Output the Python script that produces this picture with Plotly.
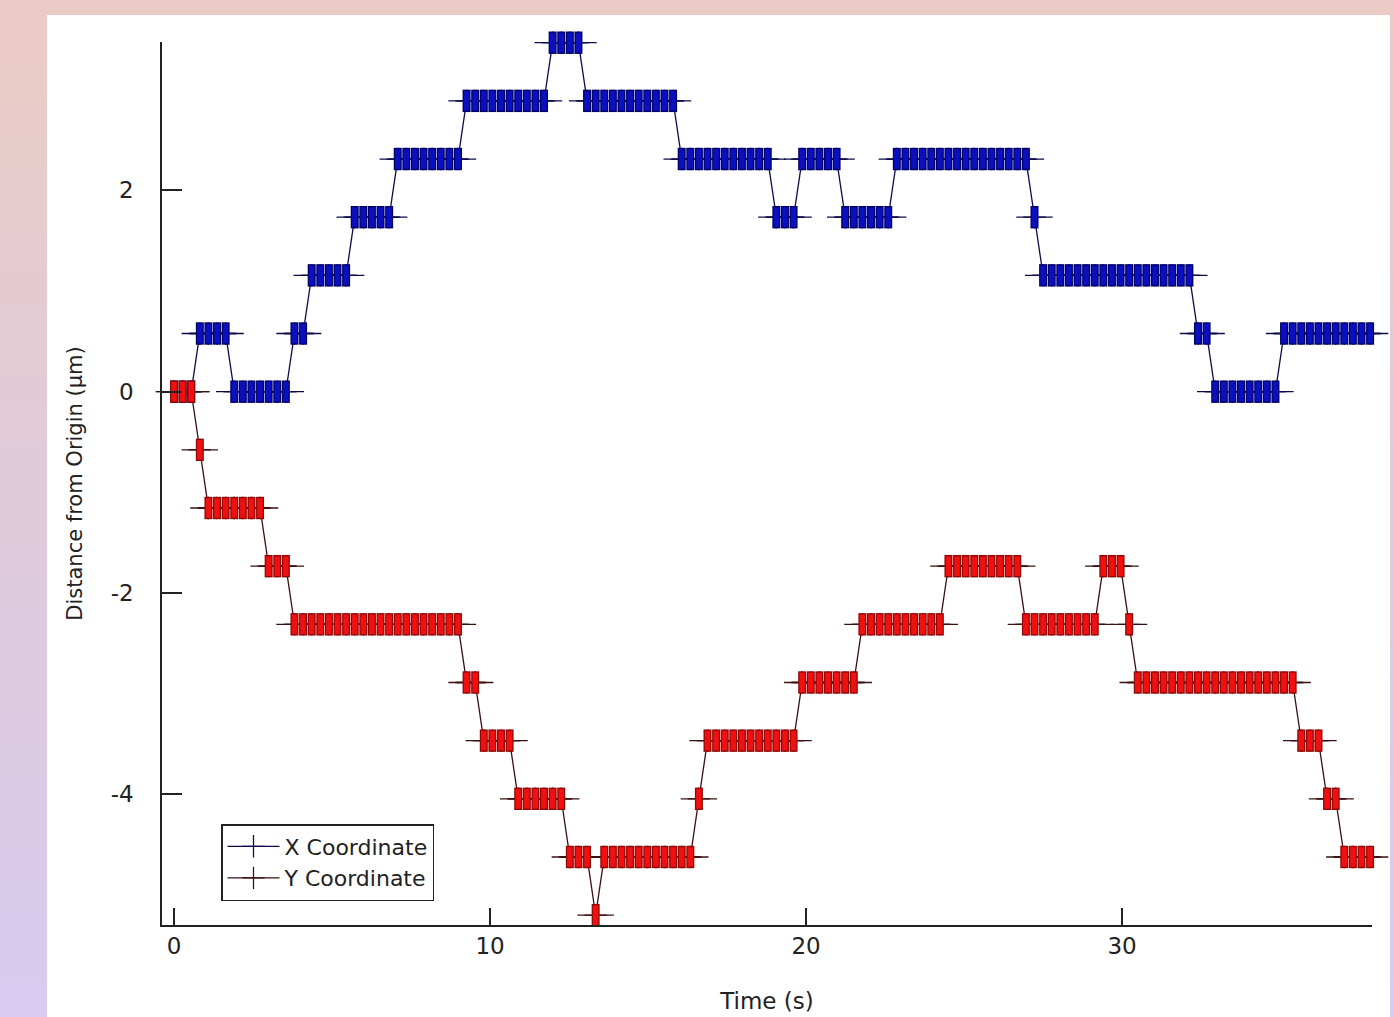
import numpy as np
import plotly.graph_objects as go

# ---- data ----
# position levels in units of one step (step_um micrometres), run-length encoded per sample
x_levels = [0, 1, 0, 1, 2, 3, 4, 5, 6, 5, 4, 3, 4, 3, 4, 3, 2, 1, 0, 1]
x_counts = [3, 4, 7, 2, 5, 5, 8, 10, 4, 11, 11, 3, 5, 6, 16, 1, 18, 2, 8, 11]
y_levels = [0, -1, -2, -3, -4, -5, -6, -7, -8, -9, -8, -7, -6, -5, -4, -3, -4, -3, -4, -5, -6, -7, -8]
y_counts = [3, 1, 7, 3, 20, 2, 4, 6, 3, 1, 11, 1, 11, 7, 10, 9, 9, 3, 1, 19, 3, 2, 4]
step_um = 0.578
sample_interval_s = 0.2723
series_names = ["X Coordinate", "Y Coordinate"]
x_tick_vals = [0, 10, 20, 30]
x_tick_text = ["0", "10", "20", "30"]
y_tick_vals = [-4, -2, 0, 2]
y_tick_text = ["-4", "-2", "0", "2"]

xs = np.repeat(np.array(x_levels) * step_um, x_counts)
ys = np.repeat(np.array(y_levels) * step_um, y_counts)
t = np.arange(len(xs)) * sample_interval_s

W, H = 1394, 1017
ML, MR, MT, MB = 162, 22, 42, 92
PW, PH = W - ML - MR, H - MT - MB

def px_x(p):
    return (p - ML) / PW

def px_y(p):
    return (H - MB - p) / PH

FONT = "DejaVu Sans, Verdana, sans-serif"

fig = go.Figure()

styles = [
    dict(dark="#0c0c4a", edge="#000066", fill="#0a10c0"),
    dict(dark="#3a1010", edge="#900808", fill="#f01010"),
]

for vals, name, st in zip([xs, ys], series_names, styles):
    fig.add_trace(go.Scatter(
        x=t, y=vals, name=name, mode="lines+markers",
        line=dict(color=st["dark"], width=1.3),
        marker=dict(symbol="cross-thin", size=16,
                    line=dict(color=st["dark"], width=1.3)),
        cliponaxis=False,
    ))
    fig.add_trace(go.Scatter(
        x=t, y=vals, mode="markers", showlegend=False, hoverinfo="skip",
        marker=dict(symbol="line-ew", size=26,
                    line=dict(color=st["dark"], width=1.3)),
        cliponaxis=False,
    ))
    fig.add_trace(go.Scatter(
        x=t, y=vals, mode="markers", showlegend=False, hoverinfo="skip",
        marker=dict(symbol="line-ns", size=16,
                    line=dict(color=st["edge"], width=8)),
        cliponaxis=False,
    ))
    fig.add_trace(go.Scatter(
        x=t, y=vals, mode="markers", showlegend=False, hoverinfo="skip",
        marker=dict(symbol="line-ns", size=14,
                    line=dict(color=st["fill"], width=5.5)),
        cliponaxis=False,
    ))

# background gradient bands + white panel
shapes = []
top = np.array([0xEB, 0xCB, 0xC6])
bot = np.array([0xD8, 0xCC, 0xF0])
nb = 30
for k in range(nb):
    f = k / (nb - 1)
    c = (top * (1 - f) + bot * f).astype(int)
    y0 = k * H / nb
    y1 = (k + 1) * H / nb + 1
    shapes.append(dict(type="rect", xref="paper", yref="paper", layer="below",
                       x0=px_x(0), x1=px_x(W), y0=px_y(y1), y1=px_y(y0),
                       line=dict(width=0),
                       fillcolor="rgb(%d,%d,%d)" % tuple(c)))
shapes.append(dict(type="rect", xref="paper", yref="paper", layer="below",
                   x0=px_x(47), x1=px_x(1390), y0=px_y(H + 5), y1=px_y(15),
                   line=dict(width=0), fillcolor="white"))

fig.update_layout(
    width=W, height=H,
    margin=dict(l=ML, r=MR, t=MT, b=MB),
    paper_bgcolor="#E2CBDA",
    plot_bgcolor="rgba(0,0,0,0)",
    shapes=shapes,
    font=dict(family=FONT, color="#222222", size=22),
    showlegend=True,
    legend=dict(x=px_x(221), y=px_y(824), xanchor="left", yanchor="top",
                bgcolor="white", bordercolor="#222222", borderwidth=1.5,
                font=dict(size=22, family=FONT, color="#222222"),
                itemwidth=52, tracegroupgap=0),
    xaxis=dict(range=[-0.38, 37.91], showgrid=False, zeroline=False,
               showline=True, linecolor="#222222", linewidth=1.5,
               ticks="inside", ticklen=17, tickwidth=1.5, tickcolor="#222222",
               tickvals=x_tick_vals, ticktext=x_tick_text, tickfont=dict(size=23),
               automargin=False,
               title=dict(text="Time (s)", font=dict(size=23), standoff=35)),
    yaxis=dict(range=[-5.30, 3.475], showgrid=False, zeroline=False,
               showline=True, linecolor="#222222", linewidth=1.5,
               ticks="inside", ticklen=20, tickwidth=1.5, tickcolor="#222222",
               tickvals=y_tick_vals, ticktext=y_tick_text, tickfont=dict(size=23),
               ticklabelstandoff=22, automargin=False,
               title=dict(text="Distance from Origin (µm)", font=dict(size=21), standoff=22)),
)

fig.write_html("out.html", config={"displayModeBar": False},
               post_script="document.body.style.margin='0px';")
